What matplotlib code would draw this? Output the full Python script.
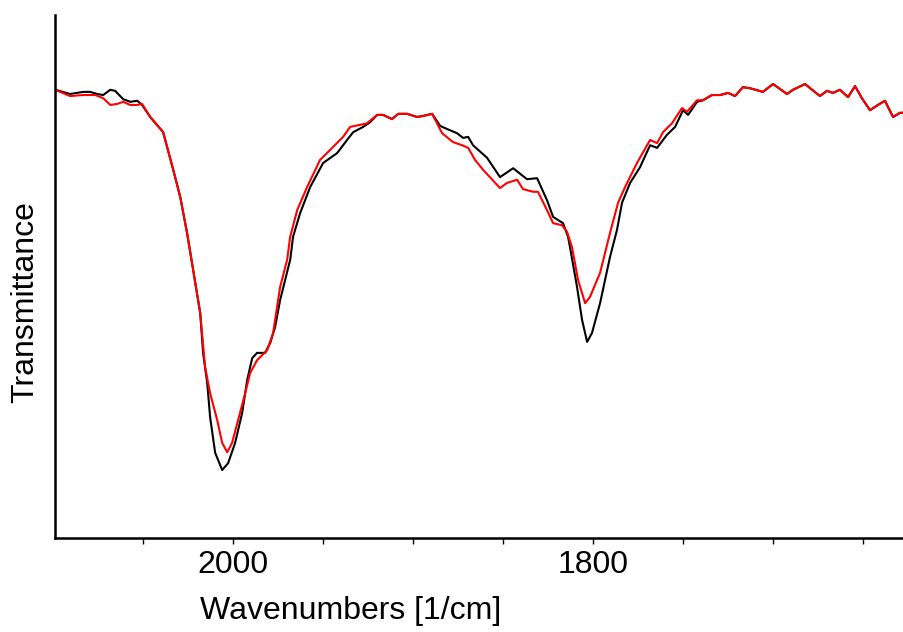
import matplotlib
matplotlib.use("Agg")
import matplotlib.pyplot as plt

plt.rcParams['font.family'] = ['Liberation Sans', 'DejaVu Sans']

# Black spectrum (wavenumber [1/cm], transmittance, arbitrary %)
black_wn = [2098.9, 2090.6, 2083.3, 2079.4, 2075.6, 2072.2, 2068.3, 2065.6, 2061.1, 2057.2,
            2053.3, 2050.6, 2046.1, 2038.9, 2033.3, 2029.4, 2025.6, 2022.2, 2018.3, 2016.7,
            2014.4, 2012.8, 2010.0, 2006.1, 2002.8, 1998.9, 1995.0, 1992.2, 1989.4, 1986.7,
            1982.2, 1979.4, 1976.7, 1973.9, 1968.3, 1966.7, 1962.8, 1957.2, 1950.0, 1942.2,
            1936.7, 1933.3, 1927.8, 1923.9, 1920.0, 1916.7, 1911.7, 1908.3, 1903.3, 1897.8,
            1894.4, 1889.4, 1885.0, 1881.1, 1875.6, 1872.2, 1869.4, 1866.7, 1858.9, 1851.7,
            1844.4, 1836.7, 1831.1, 1825.6, 1822.2, 1816.7, 1813.9, 1812.8, 1808.9, 1806.1,
            1803.3, 1800.6, 1796.1, 1790.6, 1786.7, 1783.9, 1779.4, 1773.9, 1768.3, 1764.4,
            1758.9, 1754.4, 1750.0, 1747.2, 1742.2, 1738.9, 1733.9, 1729.4, 1725.0, 1721.1,
            1716.7, 1712.8, 1705.6, 1700.0, 1692.2, 1688.9, 1682.2, 1673.9, 1670.0, 1666.7,
            1662.8, 1658.3, 1654.4, 1650.6, 1646.1, 1641.7, 1637.8, 1633.3, 1629.4, 1627.2]
black_t = [85.7, 84.9, 85.3, 85.3, 84.9, 84.7, 85.7, 85.5, 83.9, 83.4,
           83.6, 82.8, 80.5, 77.6, 70.4, 65.2, 58.3, 51.2, 43.0, 35.4,
           29.6, 23.1, 16.3, 13.0, 14.3, 18.2, 23.9, 30.2, 34.4, 35.4,
           35.4, 37.3, 40.3, 45.5, 53.2, 57.6, 62.1, 67.1, 71.7, 73.6,
           76.1, 77.6, 78.6, 79.5, 80.9, 80.9, 80.1, 81.1, 81.1, 80.5,
           80.7, 81.1, 78.8, 78.2, 77.4, 76.5, 76.7, 75.1, 72.7, 69.0,
           70.7, 68.6, 68.8, 64.6, 61.4, 60.2, 57.6, 55.6, 48.0, 41.7,
           37.5, 39.2, 44.9, 53.7, 58.9, 64.1, 67.9, 70.9, 75.1, 74.6,
           77.1, 78.6, 81.8, 80.9, 83.4, 83.7, 84.7, 84.7, 85.1, 84.5,
           86.2, 86.0, 85.3, 86.8, 84.9, 85.7, 86.8, 84.5, 85.5, 85.1,
           85.7, 84.3, 86.4, 84.1, 81.8, 82.8, 83.6, 80.5, 81.3, 81.3]

# Red spectrum
red_wn = [2098.9, 2090.6, 2083.3, 2076.7, 2072.2, 2068.3, 2064.4, 2061.1, 2057.2, 2053.3,
          2050.6, 2046.1, 2038.9, 2033.3, 2029.4, 2025.6, 2022.2, 2018.3, 2015.6, 2012.8,
          2008.9, 2006.1, 2003.3, 2000.6, 1997.2, 1993.3, 1990.6, 1986.7, 1981.1, 1977.8,
          1973.9, 1970.0, 1968.3, 1964.4, 1958.9, 1951.7, 1944.4, 1938.9, 1935.0, 1929.4,
          1925.6, 1920.0, 1916.7, 1911.7, 1908.3, 1903.3, 1897.8, 1894.4, 1889.4, 1883.9,
          1877.8, 1872.8, 1869.4, 1865.6, 1861.1, 1851.7, 1847.8, 1842.2, 1838.9, 1833.3,
          1830.6, 1825.6, 1822.2, 1817.2, 1814.4, 1811.7, 1808.3, 1804.4, 1801.7, 1796.1,
          1790.6, 1786.1, 1782.2, 1775.6, 1768.3, 1764.4, 1761.1, 1756.1, 1750.6, 1747.8,
          1742.2, 1738.9, 1733.9, 1729.4, 1725.0, 1721.1, 1716.7, 1712.8, 1705.6, 1700.0,
          1692.2, 1688.9, 1682.2, 1673.9, 1670.0, 1666.7, 1662.8, 1658.3, 1654.4, 1650.6,
          1646.1, 1641.7, 1637.8, 1633.3, 1629.4, 1627.2]
red_t = [85.7, 84.5, 84.7, 84.7, 84.1, 82.8, 83.0, 83.4, 82.8, 82.8,
         83.0, 80.5, 77.6, 70.4, 65.2, 58.3, 51.2, 43.0, 32.7, 27.7,
         22.6, 18.2, 16.4, 18.2, 22.6, 27.7, 31.5, 34.0, 35.9, 39.2,
         48.0, 53.2, 57.6, 62.7, 67.1, 72.3, 74.8, 76.7, 78.6, 79.0,
         79.3, 80.9, 80.9, 80.1, 81.1, 81.1, 80.5, 80.7, 81.1, 77.4,
         75.7, 75.1, 74.6, 72.3, 70.4, 66.9, 67.9, 68.5, 66.7, 66.2,
         66.2, 62.7, 60.2, 59.8, 58.5, 55.6, 49.3, 44.9, 46.1, 50.7,
         58.3, 64.1, 67.1, 71.7, 76.1, 75.5, 77.6, 79.3, 82.2, 81.5,
         83.7, 83.7, 84.7, 84.7, 85.1, 84.5, 86.2, 86.0, 85.3, 86.8,
         84.9, 85.7, 86.8, 84.5, 85.5, 85.1, 85.7, 84.3, 86.4, 84.1,
         81.8, 82.8, 83.6, 80.5, 81.3, 81.3]

tick_positions = [2050, 2000, 1950, 1900, 1850, 1800, 1750, 1700, 1650]
tick_labels = ['', '2000', '', '', '', '1800', '', '', '']

fig = plt.figure(figsize=(9.04, 6.32), dpi=100)
ax = fig.add_axes([55 / 904, (632 - 538) / 632, 849 / 904, 523 / 632])

ax.plot(black_wn, black_t, color='black', lw=1.5)
ax.plot(red_wn, red_t, color='#ff0000', lw=1.5)

ax.set_xlim(2099, 1627.2)
ax.set_ylim(0, 100)

for s in ['top', 'right']:
    ax.spines[s].set_visible(False)
for s in ['left', 'bottom']:
    ax.spines[s].set_linewidth(1.8)

ax.set_yticks([])
ax.set_xticks(tick_positions)
ax.set_xticklabels(tick_labels, fontsize=23)
ax.tick_params(axis='x', direction='out', length=4.5, width=1.0, pad=4)

ax.set_xlabel('Wavenumbers [1/cm]', fontsize=23)
ax.xaxis.label.set_va('center')
ax.xaxis.set_label_coords(296 / 849, (538 - 611) / 523)
ax.set_ylabel('Transmittance', fontsize=23)
ax.yaxis.label.set_va('center')
ax.yaxis.set_label_coords(-30 / 849, (538 - 302) / 523)

fig.savefig('out.png', dpi=100)
